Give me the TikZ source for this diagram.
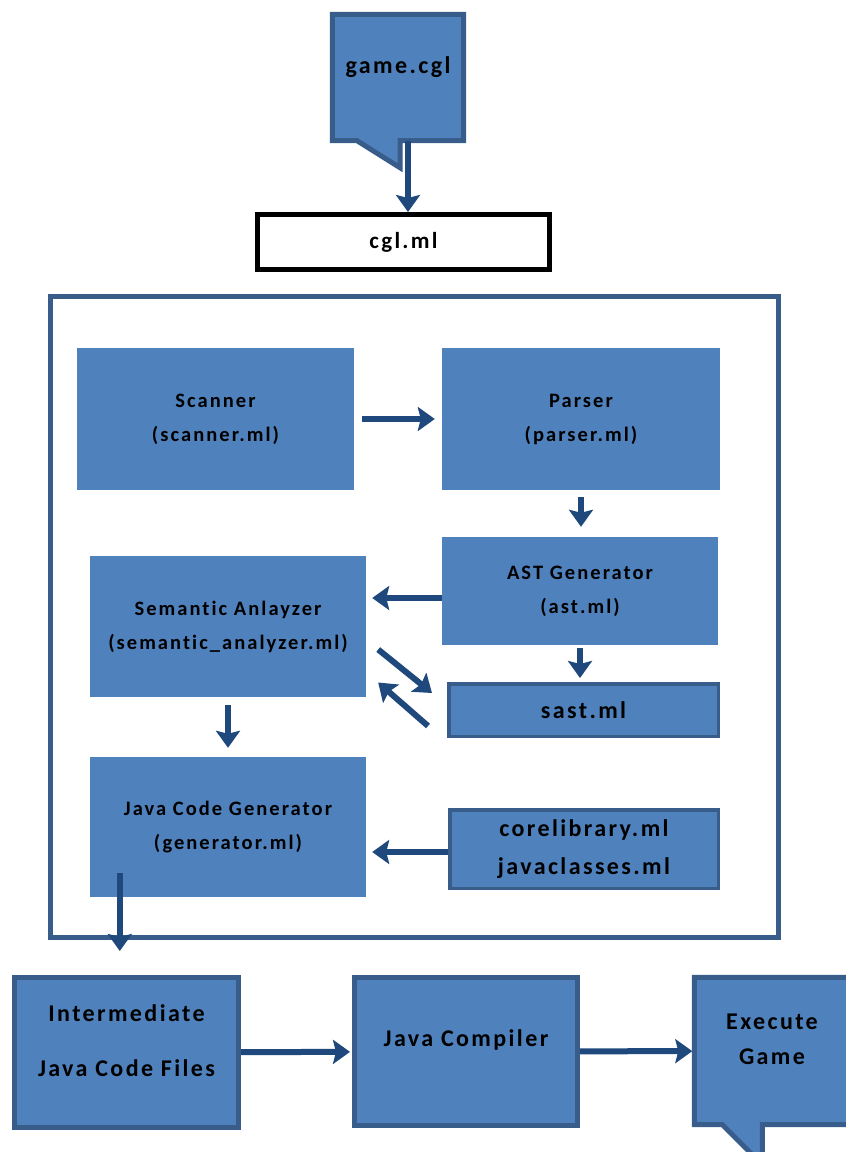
\documentclass[tikz,border=0pt]{standalone}
\usepackage{fontspec}
\setmainfont{Carlito}[LetterSpace=10,Ligatures=NoCommon]
\usetikzlibrary{arrows.meta,backgrounds}
\definecolor{boxblue}{RGB}{79,129,189}
\definecolor{rimblue}{RGB}{56,93,138}
\definecolor{arrowblue}{RGB}{31,73,125}

\begin{document}
\begin{tikzpicture}[x=1pt,y=-1pt]
      \tikzstyle{stage}=[rectangle,fill=boxblue,font=\bfseries\fontsize{20.5}{34}\selectfont,align=center,inner sep=0pt]
      \tikzstyle{filebox}=[rectangle,fill=boxblue,draw=rimblue,line width=3.5pt,font=\bfseries\fontsize{24}{38}\selectfont,align=center,inner sep=0pt]
      \tikzstyle{outbox}=[filebox,line width=5pt]
      \tikzstyle{callbody}=[rectangle,inner sep=0pt]
      \tikzstyle{callout}=[fill=boxblue,draw=rimblue,line width=5pt,line join=miter]
      \tikzstyle{bigtext}=[font=\bfseries\fontsize{24}{35}\selectfont,align=center]
      \tikzstyle{flow}=[draw=arrowblue,line width=6pt,-{Stealth[length=17pt,width=24pt,inset=3pt]}]
      \path[use as bounding box,clip] (0,0) rectangle (846,1152);
      \node[callbody,minimum width=131pt,minimum height=126pt,label={[bigtext,yshift=10pt]center:game.cgl}] (game) at (398,77.5) {};
      \node[draw=black,fill=white,line width=5pt,minimum width=292pt,minimum height=55pt,font=\bfseries\fontsize{23}{30}\selectfont] (cgl) at (403.5,242) {cgl.ml};
      \node[draw=rimblue,line width=5pt,minimum width=728pt,minimum height=641pt] (frontend) at (414.5,617) {};
      \node[stage,minimum width=277pt,minimum height=142pt] (scanner) at (215.5,419) {Scanner\\(scanner.ml)};
      \node[stage,minimum width=278pt,minimum height=142pt] (parser) at (581,419) {Parser\\(parser.ml)};
      \node[stage,minimum width=276pt,minimum height=108pt] (ast) at (580,591) {AST Generator\\(ast.ml)};
      \node[stage,minimum width=276pt,minimum height=141pt] (sem) at (228,626.5) {Semantic Anlayzer\\(semantic\_analyzer.ml)};
      \node[filebox,minimum width=269.5pt,minimum height=52.5pt] (sast) at (583.5,710) {sast.ml};
      \node[stage,minimum width=276pt,minimum height=140pt] (jcg) at (228,827) {Java Code Generator\\(generator.ml)};
      \node[filebox,minimum width=268.5pt,minimum height=78.5pt] (core) at (584,849) {corelibrary.ml\\javaclasses.ml};
      \node[outbox,minimum width=224pt,minimum height=150pt,label={[bigtext,yshift=12pt]center:{Intermediate\\[20pt]Java Code Files}}] (inter) at (126.5,1052.5) {};
      \node[outbox,minimum width=223pt,minimum height=148pt,label={[bigtext,yshift=12pt]center:Java Compiler}] (comp) at (466,1051.5) {};
      \node[callbody,minimum width=155pt,minimum height=147pt,label={[bigtext,yshift=12pt]center:{Execute\\Game}}] (execute) at (772,1051) {};
      \begin{pgfonlayer}{background}
        \draw[callout] (game.north west) -- (game.north east) -- (game.south east) -- ([xshift=2pt]game.south)
          -- ([shift={(2,27)}]game.south) -- ([xshift=-41pt]game.south) -- (game.south west) -- cycle;
        \draw[callout] (execute.north west) -- (execute.north east) -- (execute.south east) -- ([xshift=68pt]execute.south west)
          -- ([shift={(68,40)}]execute.south west) -- ([xshift=28pt]execute.south west) -- (execute.south west) -- cycle;
      \end{pgfonlayer}
      \draw[flow] ([xshift=10pt]game.south) -- ([xshift=10pt]game.south |- cgl.north);
      \draw[flow,shorten <=8pt,shorten >=7pt] (scanner) -- (parser);
      \draw[flow,shorten <=7pt,shorten >=10pt] (parser.south) -- (parser.south |- ast.north);
      \draw[flow,shorten >=6pt] ([yshift=-7pt]ast.west) -- ([yshift=-7pt]ast.west -| sem.east);
      \draw[flow,shorten <=3pt,shorten >=4pt] (ast.south) -- (ast.south |- sast.north);
      \draw[flow] ([shift={(12,23)}]sem.east) -- ([shift={(-15,-17)}]sast.west);
      \draw[flow] ([shift={(-19,16)}]sast.west) -- ([shift={(12,56)}]sem.east);
      \draw[flow,shorten <=8pt,shorten >=9pt] (sem.south) -- (sem.south |- jcg.north);
      \draw[flow,shorten >=6pt] ([yshift=-3pt]core.west) -- ([yshift=-3pt]core.west -| jcg.east);
      \draw[flow] ([shift={(30,-24)}]jcg.south west) -- ([shift={(30,-24)}]jcg.south west |- inter.north);
      \draw[flow,shorten >=2pt] (inter) -- (comp);
      \draw[flow,shorten >=2pt] (comp) -- (execute);
\end{tikzpicture}
\end{document}
